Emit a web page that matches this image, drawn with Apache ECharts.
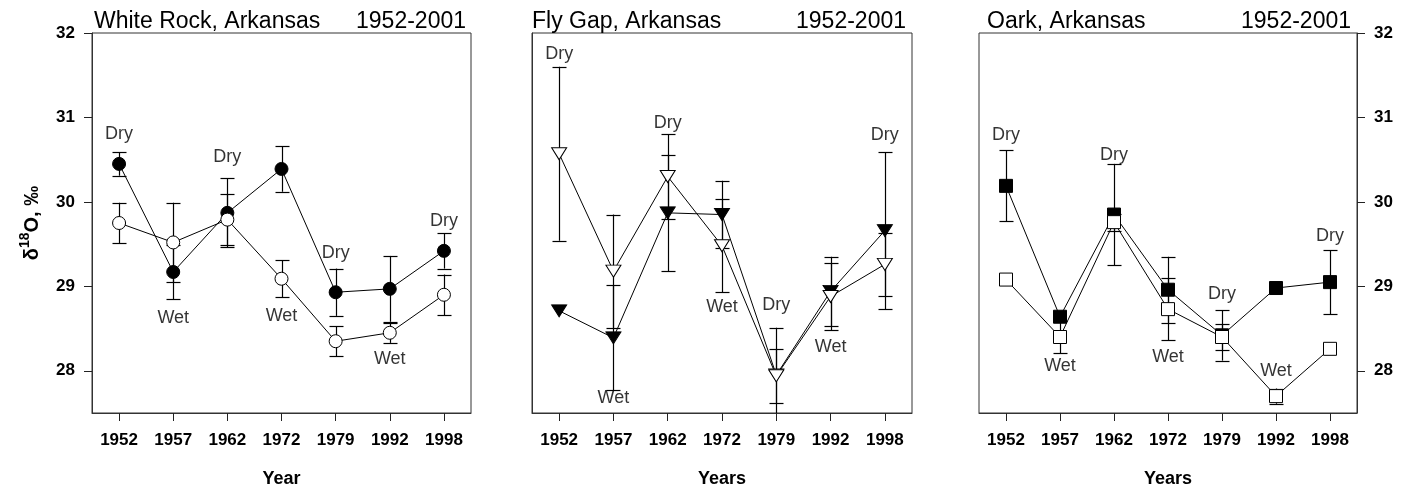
<!DOCTYPE html>
<html>
<head>
<meta charset="utf-8">
<script src="https://cdn.jsdelivr.net/npm/echarts@6/dist/echarts.min.js"></script>
<style>
html,body{margin:0;padding:0;background:#fff;}
#chart{width:1411px;height:487px;}
</style>
</head>
<body>
<div id="chart"></div>
<script>
// ---------- data ----------
const years = ['1952', '1957', '1962', '1972', '1979', '1992', '1998'];
const yTicks = [28, 29, 30, 31, 32];

// White Rock, Arkansas
const wrFilled    = [30.45, 29.17, 29.87, 30.39, 28.93, 28.97, 29.42];
const wrFilledErr = [0.14, 0.32, 0.41, 0.27, 0.28, 0.39, 0.21];
const wrOpen      = [29.75, 29.52, 29.79, 29.09, 28.35, 28.45, 28.90];
const wrOpenErr   = [0.24, 0.47, 0.30, 0.22, 0.18, 0.12, 0.24];
const wrNotes = [['1952', 30.80, 'Dry'], ['1962', 30.53, 'Dry'], ['1979', 29.40, 'Dry'], ['1998', 29.77, 'Dry'],
                 ['1957', 28.63, 'Wet'], ['1972', 28.65, 'Wet'], ['1992', 28.14, 'Wet']];

// Fly Gap, Arkansas
const fgFilled    = [28.71, 28.39, 29.87, 29.85, 27.95, 28.94, 29.66];
const fgFilledErr = [null, 0.62, 0.69, 0.40, 0.56, 0.41, 0.93];
const fgOpen      = [30.57, 29.18, 30.30, 29.48, 27.94, 28.88, 29.26];
const fgOpenErr   = [1.03, 0.67, 0.50, 0.55, 0.32, 0.40, 0.37];
const fgNotes = [['1952', 31.75, 'Dry'], ['1962', 30.93, 'Dry'], ['1979', 28.78, 'Dry'], ['1998', 30.79, 'Dry'],
                 ['1957', 27.68, 'Wet'], ['1972', 28.75, 'Wet'], ['1992', 28.28, 'Wet']];

// Oark, Arkansas
const okFilled    = [30.19, 28.64, 29.85, 28.96, 28.42, 28.98, 29.05];
const okFilledErr = [0.42, null, 0.60, 0.39, 0.30, null, 0.38];
const okOpen      = [29.08, 28.40, 29.76, 28.73, 28.40, 27.70, 28.26];
const okOpenErr   = [null, 0.19, 0.10, 0.37, 0.15, 0.09, null];
const okNotes = [['1952', 30.79, 'Dry'], ['1962', 30.55, 'Dry'], ['1979', 28.91, 'Dry'], ['1998', 29.59, 'Dry'],
                 ['1957', 28.06, 'Wet'], ['1972', 28.16, 'Wet'], ['1992', 28.00, 'Wet']];

const panelTitles = ['White Rock, Arkansas', 'Fly Gap, Arkansas', 'Oark, Arkansas'];
const periodLabel = '1952-2001';

// ---------- styling / layout ----------
const FONT = '"Liberation Sans", Arial, Helvetica, sans-serif';
const panels = [
  { filled: wrFilled, filledErr: wrFilledErr, open: wrOpen, openErr: wrOpenErr, notes: wrNotes,
    symbol: 'circle', size: 13, rotate: 0, xName: 'Year' },
  { filled: fgFilled, filledErr: fgFilledErr, open: fgOpen, openErr: fgOpenErr, notes: fgNotes,
    symbol: 'triangle', size: [15, 12], rotate: 180, xName: 'Years' },
  { filled: okFilled, filledErr: okFilledErr, open: okOpen, openErr: okOpenErr, notes: okNotes,
    symbol: 'rect', size: 13, rotate: 0, xName: 'Years' }
];
const gridRects = [
  { left: 92, top: 33, width: 379, height: 380 },
  { left: 532, top: 33, width: 380, height: 380 },
  { left: 979, top: 33, width: 378, height: 380 }
];
const titleLeftX = [94, 532, 987];
const titleRightX = [466, 906, 1351];

function errData(vals, errs) {
  const out = [];
  vals.forEach((v, i) => {
    if (errs[i] != null) out.push([i, v - errs[i], v + errs[i]]);
  });
  return out;
}

function renderErr(params, api) {
  const cs = params.coordSys;
  const lo = api.coord([api.value(0), api.value(1)]);
  const hi = api.coord([api.value(0), api.value(2)]);
  const x = Math.round(lo[0]) + 0.5;
  const top = cs.y, bottom = cs.y + cs.height;
  const y1 = Math.min(Math.max(hi[1], top), bottom);
  const y2 = Math.min(Math.max(lo[1], top), bottom);
  const hw = 7;
  const st = { stroke: '#000', lineWidth: 1.2 };
  const children = [{ type: 'line', shape: { x1: x, y1: y1, x2: x, y2: y2 }, style: st }];
  [hi[1], lo[1]].forEach(yy => {
    if (yy >= top && yy <= bottom) {
      const yr = Math.round(yy) + 0.5;
      children.push({ type: 'line', shape: { x1: x - hw, y1: yr, x2: x + hw, y2: yr }, style: st });
    }
  });
  return { type: 'group', children: children };
}

const grid = gridRects.map(r => Object.assign({
  show: true, borderColor: '#333', borderWidth: 1, backgroundColor: 'transparent',
  containLabel: false, outerBoundsMode: 'none'
}, r));

const xAxis = panels.map((p, i) => ({
  type: 'category', gridIndex: i, data: years, boundaryGap: true,
  axisLine: { show: true, lineStyle: { color: '#333', width: 1 } },
  axisTick: { show: true, alignWithLabel: true, length: 8, lineStyle: { color: '#222' } },
  axisLabel: { fontSize: 17, fontWeight: 'bold', color: '#000', margin: 19, fontFamily: FONT },
  splitLine: { show: false },
  name: p.xName, nameLocation: 'middle', nameGap: 57,
  nameTextStyle: { fontSize: 18, fontWeight: 'bold', color: '#000', fontFamily: FONT }
}));

const yAxis = panels.map((p, i) => {
  const ax = {
    type: 'value', gridIndex: i, min: 27.5, max: 32,
    position: i === 2 ? 'right' : 'left',
    axisLine: { show: true, lineStyle: { color: '#333', width: 1 } },
    axisTick: { show: i !== 1, inside: false, length: 8, customValues: yTicks, lineStyle: { color: '#222' } },
    axisLabel: { show: i !== 1, customValues: yTicks, fontSize: 17, fontWeight: 'bold', color: '#000', margin: 17, fontFamily: FONT },
    splitLine: { show: false }
  };
  if (i === 0) {
    ax.name = '{d|δ}{s|18}{d|O, ‰}';
    ax.nameLocation = 'middle';
    ax.nameGap = 50;
    ax.nameRotate = 90;
    ax.nameTextStyle = {
      rich: {
        d: { fontSize: 20, fontWeight: 'bold', color: '#000', fontFamily: FONT, lineHeight: 24, verticalAlign: 'bottom' },
        s: { fontSize: 14, fontWeight: 'bold', color: '#000', fontFamily: FONT, lineHeight: 24, verticalAlign: 'top' }
      }
    };
  }
  return ax;
});

const series = [];
panels.forEach((p, i) => {
  series.push({
    type: 'custom', xAxisIndex: i, yAxisIndex: i, z: 2, silent: true,
    renderItem: renderErr, data: errData(p.filled, p.filledErr)
  });
  series.push({
    type: 'line', xAxisIndex: i, yAxisIndex: i, z: 3, silent: true,
    data: p.filled, symbol: p.symbol, symbolSize: p.size, symbolRotate: p.rotate, showAllSymbol: true,
    lineStyle: { color: '#000', width: 1 },
    itemStyle: { color: '#000', borderColor: '#000', borderWidth: 1 }
  });
  series.push({
    type: 'custom', xAxisIndex: i, yAxisIndex: i, z: 4, silent: true,
    renderItem: renderErr, data: errData(p.open, p.openErr)
  });
  series.push({
    type: 'line', xAxisIndex: i, yAxisIndex: i, z: 5, silent: true,
    data: p.open, symbol: p.symbol, symbolSize: p.size, symbolRotate: p.rotate, showAllSymbol: true,
    lineStyle: { color: '#000', width: 1 },
    itemStyle: { color: '#fff', borderColor: '#000', borderWidth: 1 }
  });
  series.push({
    type: 'scatter', xAxisIndex: i, yAxisIndex: i, z: 6, silent: true,
    symbolSize: 1, itemStyle: { color: 'rgba(0,0,0,0)' },
    label: { show: true, position: 'inside', formatter: '{b}', fontSize: 18, color: '#000',
             textBorderWidth: 0, fontFamily: FONT },
    data: p.notes.map(n => ({ name: n[2], value: [n[0], n[1]] }))
  });
});

const graphic = [];
panelTitles.forEach((t, i) => {
  graphic.push({ type: 'text', x: titleLeftX[i], y: 22, silent: true,
    style: { text: t, font: '23px ' + FONT, fill: '#000', align: 'left', verticalAlign: 'middle' } });
  graphic.push({ type: 'text', x: titleRightX[i], y: 22, silent: true,
    style: { text: periodLabel, font: '23px ' + FONT, fill: '#000', align: 'right', verticalAlign: 'middle' } });
});

const chart = echarts.init(document.getElementById('chart'), null, { renderer: 'canvas' });
chart.setOption({
  animation: false,
  backgroundColor: '#fff',
  textStyle: { fontFamily: FONT },
  grid: grid,
  xAxis: xAxis,
  yAxis: yAxis,
  series: series,
  graphic: graphic
});
</script>
</body>
</html>
